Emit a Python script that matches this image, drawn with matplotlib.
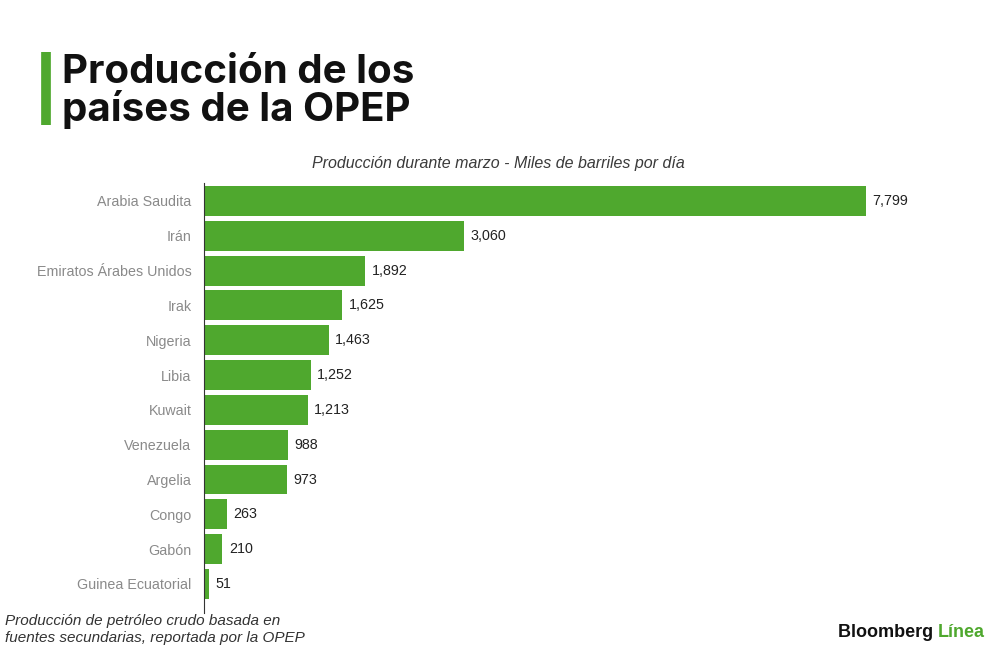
import matplotlib.pyplot as plt

paises = ['Arabia Saudita', 'Irán', 'Emiratos Árabes Unidos', 'Irak', 'Nigeria',
          'Libia', 'Kuwait', 'Venezuela', 'Argelia', 'Congo', 'Gabón',
          'Guinea Ecuatorial']
produccion = [7799, 3060, 1892, 1625, 1463, 1252, 1213, 988, 973, 263, 210, 51]

verde = "#4FA82E"

fig = plt.figure(figsize=(10, 6.53), dpi=100, facecolor="white")
ax = fig.add_axes([0.204, 0.062, 0.746, 0.658])

pos = list(range(len(paises)))
ax.barh(pos, produccion, height=0.86, color=verde, left=8)
for y, v in zip(pos, produccion):
    ax.text(v + 8 + 75, y, f"{v:,}", va='center', ha='left', fontsize=10.3,
            color="#222222", family='Liberation Sans')

ax.set_yticks(pos)
ax.set_yticklabels(paises, fontsize=10.3, color="#8a8a8a", family='Liberation Sans')
ax.tick_params(axis='y', length=0, pad=9)
ax.set_xticks([])
ax.set_ylim(11.82, -0.52)
ax.set_xlim(0, 8800)

# Bordes
for s in ['top', 'right', 'bottom']:
    ax.spines[s].set_visible(False)
ax.spines['left'].set_color("#333333")
ax.spines['left'].set_linewidth(0.8)

# Título
fig.add_artist(plt.Line2D([0.046, 0.046], [0.808, 0.921], color=verde, lw=7,
                          transform=fig.transFigure, solid_capstyle='butt'))
fig.text(0.062, 0.802, "Producción de los\npaíses de la OPEP", fontsize=29,
         fontweight='bold', family='Inter', color="#111111", va='bottom',
         ha='left', linespacing=0.98)

fig.text(0.498, 0.749, "Producción durante marzo - Miles de barriles por día",
         fontsize=11.5, style='italic', color="#3a3a3a", ha='center', va='center',
         family='Liberation Sans')

fig.text(0.005, 0.036, "Producción de petróleo crudo basada en\nfuentes secundarias, reportada por la OPEP",
         fontsize=11, style='italic', color="#333333", ha='left', va='center',
         family='Liberation Sans', linespacing=1.2)

t = fig.text(0.838, 0.032, "Bloomberg ", fontsize=13, fontweight='bold',
             color="#111111", ha='left', va='center', family='Liberation Sans')
fig.canvas.draw()
bb = t.get_window_extent().transformed(fig.transFigure.inverted())
fig.text(bb.x1, 0.032, "Línea", fontsize=13, fontweight='bold', color=verde,
         ha='left', va='center', family='Liberation Sans')

plt.savefig('out.png', dpi=100, facecolor="white")
